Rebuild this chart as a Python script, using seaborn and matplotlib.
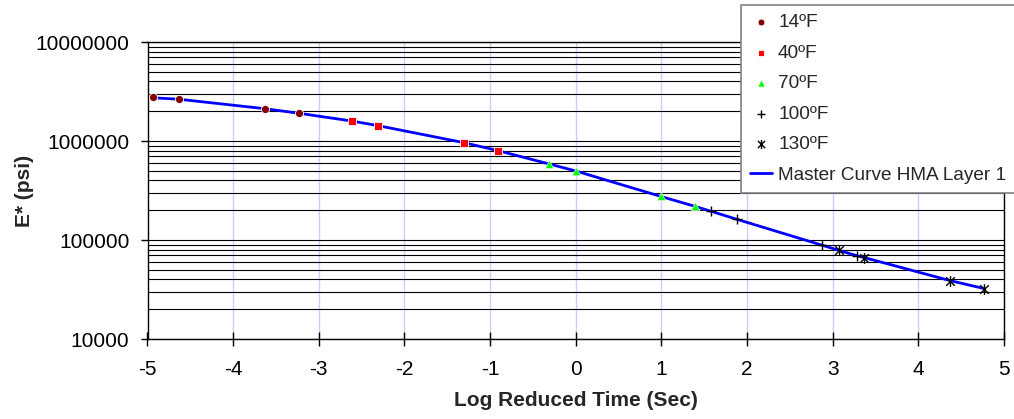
import numpy as np
import pandas as pd
import matplotlib
matplotlib.use("Agg")
import matplotlib.pyplot as plt
from matplotlib.path import Path
import seaborn as sns

# ---- data ----
t14 = [-4.93, -4.63, -3.63, -3.23]
e14 = [2760000, 2640000, 2120000, 1905000]
t40 = [-2.61, -2.31, -1.31, -0.91]
e40 = [1590000, 1430000, 964000, 800000]
t70 = [-0.31, 0.0, 0.99, 1.39]
e70 = [586000, 498000, 276000, 219000]
t100 = [1.58, 1.88, 2.88, 3.28]
e100 = [195000, 162000, 88400, 69500]
t130 = [3.07, 3.37, 4.37, 4.77]
e130 = [78700, 66400, 38900, 32300]
curve_t = [-4.96, -4.63, -3.63, -3.23, -2.61, -2.31, -1.31, -0.91, -0.31, 0.0,
           0.99, 1.39, 1.58, 1.88, 2.88, 3.07, 3.28, 3.37, 4.37, 4.77]
curve_e = [2740000, 2640000, 2120000, 1905000, 1590000, 1430000, 964000, 800000,
           586000, 498000, 276000, 219000, 195000, 162000, 88400, 78700, 69500,
           66400, 38900, 32300]
x_ticks = [-5, -4, -3, -2, -1, 0, 1, 2, 3, 4, 5]
y_ticks = [10000, 100000, 1000000, 10000000]
labels = ["14ºF", "40ºF", "70ºF", "100ºF", "130ºF", "Master Curve HMA Layer 1"]

sns.set_style("white")
plt.rcParams["font.family"] = ["Liberation Sans", "DejaVu Sans"]

fig = plt.figure(figsize=(10.14, 4.19), dpi=100)
ax = fig.add_axes([147.5/1014, 1 - 339/419, (1004 - 147.5)/1014, (339 - 42)/419])

star = Path([(-1, -1), (1, 1), (-1, 1), (1, -1), (0, -1.25), (0, 1.25)],
            [Path.MOVETO, Path.LINETO, Path.MOVETO, Path.LINETO, Path.MOVETO, Path.LINETO])

# gridlines
for xv in x_ticks:
    ax.axvline(xv, color="#ccccff", lw=1.0, zorder=0)
minor = [m * 10**d for d in range(4, 7) for m in range(2, 10)]
for yv in minor + y_ticks:
    ax.axhline(yv, color="black", lw=0.8, zorder=0.5)

sns.lineplot(x=curve_t, y=curve_e, ax=ax, color="#0000ff", lw=2, label=labels[5],
             zorder=2, sort=False)
sns.scatterplot(x=t14, y=e14, ax=ax, marker="o", color="#800000", s=34,
                edgecolor="white", linewidth=0.6, label=labels[0], zorder=3)
sns.scatterplot(x=t40, y=e40, ax=ax, marker="s", color="#ff0000", s=34,
                edgecolor="white", linewidth=0.6, label=labels[1], zorder=3)
sns.scatterplot(x=t70, y=e70, ax=ax, marker="^", color="#00ff00", s=36,
                edgecolor="white", linewidth=0.4, label=labels[2], zorder=3)
sns.scatterplot(x=t100, y=e100, ax=ax, marker="+", color="black", edgecolor="black",
                s=55, linewidth=1.0, label=labels[3], zorder=3)
sns.scatterplot(x=t130, y=e130, ax=ax, marker=star, color="black", edgecolor="black",
                s=60, linewidth=1.0, label=labels[4], zorder=3)

ax.set_yscale("log")
ax.set_xlim(-5, 5)
ax.set_ylim(10000, 10000000)
ax.set_xticks(x_ticks)
ax.set_xticklabels([str(v) for v in x_ticks])
ax.set_yticks(y_ticks)
ax.set_yticklabels([str(v) for v in y_ticks])
ax.yaxis.set_minor_locator(matplotlib.ticker.NullLocator())
ax.tick_params(axis="both", labelsize=15, colors="black", width=1,
               bottom=True, left=True)
ax.tick_params(axis="x", direction="inout", length=10, pad=10)
ax.tick_params(axis="y", direction="out", length=5, pad=8)
for s in ax.spines.values():
    s.set_color("black")
    s.set_linewidth(1)
    s.set_visible(True)
ax.set_xlabel("Log Reduced Time (Sec)", fontsize=15, fontweight="bold", labelpad=9)
ax.set_ylabel("E* (psi)", fontsize=15, fontweight="bold", labelpad=1)

h, l = ax.get_legend_handles_labels()
order = [l.index(x) for x in labels]
leg = fig.legend([h[i] for i in order], [l[i] for i in order],
                 loc="upper left", bbox_to_anchor=(741/1014, 1 - 5/419),
                 fontsize=13.7, frameon=True, fancybox=False, shadow=False,
                 borderpad=0.45, labelspacing=0.7, handlelength=1.2,
                 handletextpad=0.3, borderaxespad=0, markerscale=0.85)
leg.get_frame().set_edgecolor("#808080")
leg.get_frame().set_linewidth(1.2)
leg.get_frame().set_alpha(1)
if ax.get_legend():
    ax.get_legend().remove()

fig.savefig("out.png", dpi=100)
